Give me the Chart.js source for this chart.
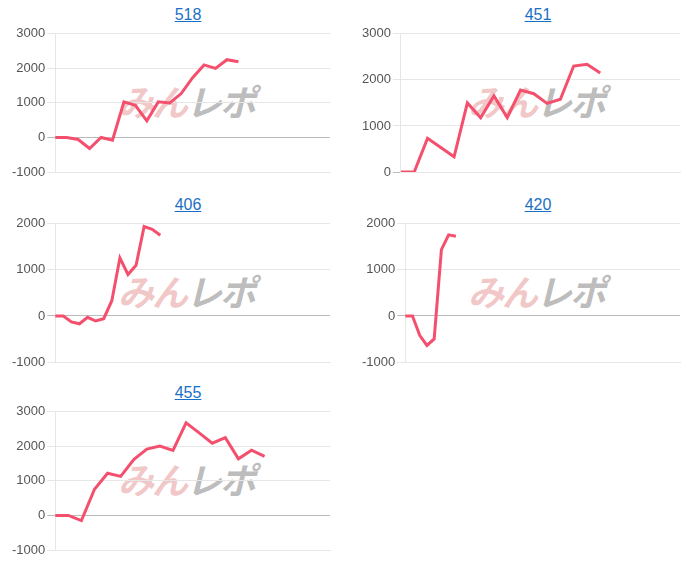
<!DOCTYPE html>
<html>
<head>
<meta charset="utf-8">
<script src="https://cdn.jsdelivr.net/npm/chart.js@4.4.1/dist/chart.umd.min.js"></script>
<style>
  body { margin: 0; background: #fff; font-family: "Liberation Sans", Arial, sans-serif; }
  .cell { position: absolute; width: 340px; height: 188px; }
  .cell a { position: absolute; top: 6px; left: 0; width: 100%; text-align: center; color: #1a6fc4; font-size: 16px; text-decoration: underline; padding-left: 36px; box-sizing: border-box; }
  .cell .wm { position: absolute; left: 118px; top: 74px; font: italic bold 36px "Noto Sans CJK JP", sans-serif; letter-spacing: -2px; }
  .wm .a { color: rgba(230, 150, 150, 0.55); }
  .wm .b { color: rgba(150, 150, 150, 0.65); }
  .cell .box { position: absolute; left: 0; top: 24px; width: 340px; height: 160px; }
</style>
</head>
<body>
<script>
const titles = ['518', '451', '406', '420', '455'];
const slotCounts = [25, 22, 35, 39, 22];
const series518 = [0, 0, -60, -320, 0, -80, 1030, 930, 480, 1030, 1000, 1270, 1730, 2100, 2000, 2250, 2190];
const series451 = [0, 0, 730, 530, 330, 1500, 1180, 1650, 1180, 1780, 1700, 1490, 1580, 2300, 2340, 2150];
const series406 = [0, 0, -130, -170, -30, -110, -60, 330, 1260, 900, 1100, 1940, 1880, 1750];
const series420 = [0, 0, -420, -640, -500, 1440, 1760, 1730];
const series455 = [0, 0, -150, 760, 1220, 1130, 1620, 1920, 2010, 1880, 2680, 2390, 2090, 2250, 1640, 1890, 1710];
const allSeries = [series518, series451, series406, series420, series455];
const yRanges = [[-1000, 3000], [0, 3000], [-1000, 2000], [-1000, 2000], [-1000, 3000]];
const positions = [[0, 0], [350, 0], [0, 190], [350, 190], [0, 378]];

titles.forEach((t, i) => {
  const cell = document.createElement('div');
  cell.className = 'cell';
  cell.style.left = positions[i][0] + 'px';
  cell.style.top = positions[i][1] + 'px';
  cell.innerHTML = `<a href="#">${t}</a><div class="wm"><span class="a">みん</span><span class="b">レポ</span></div><div class="box"><canvas></canvas></div>`;
  document.body.appendChild(cell);
  const labels = Array.from({ length: slotCounts[i] }, (_, k) => String(k + 1));
  new Chart(cell.querySelector('canvas'), {
    type: 'line',
    data: {
      labels,
      datasets: [{ data: allSeries[i], borderColor: '#f4506e', borderWidth: 3, pointRadius: 0, tension: 0, fill: false }],
    },
    options: {
      responsive: true, maintainAspectRatio: false, animation: false,
      layout: { padding: { left: 10, right: 10, top: 8, bottom: 4 } },
      plugins: { legend: { display: false }, tooltip: { enabled: false } },
      scales: {
        x: { ticks: { display: false }, grid: { display: false }, border: { color: '#e6e6e6' } },
        y: {
          min: yRanges[i][0], max: yRanges[i][1],
          ticks: { stepSize: 1000, color: '#555', padding: 2, font: { size: 13, family: 'Liberation Sans' }, callback: (v) => String(v) },
          grid: { color: (c) => c.tick && c.tick.value === 0 ? '#bbb' : '#e6e6e6', drawTicks: true, tickLength: 8 },
          border: { display: true, color: '#e6e6e6' },
        },
      },
    },
  });
});
</script>
</body>
</html>
